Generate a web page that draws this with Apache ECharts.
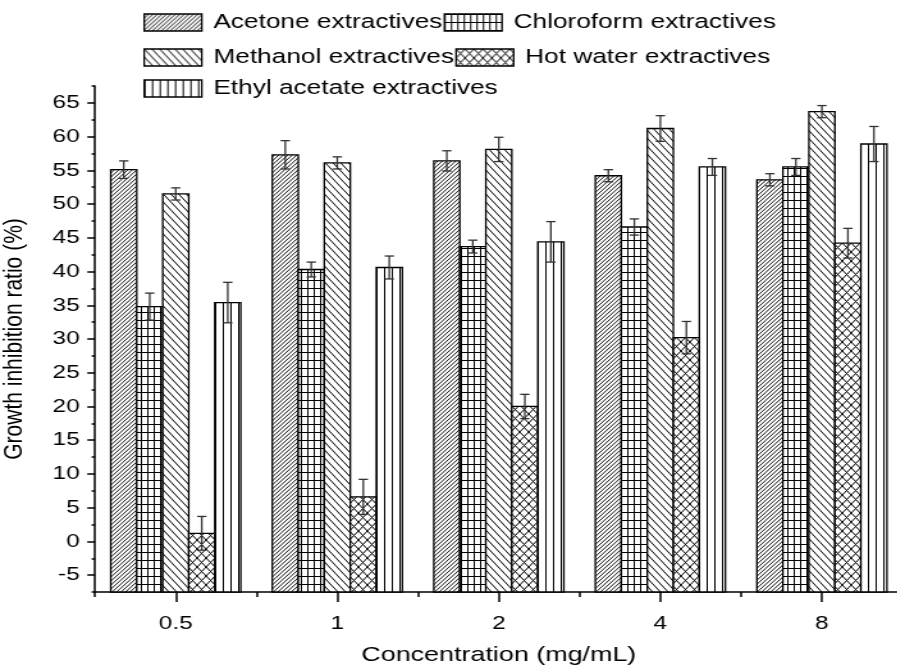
<!DOCTYPE html>
<html>
<head>
<meta charset="utf-8">
<script src="https://cdn.jsdelivr.net/npm/echarts@6/dist/echarts.min.js"></script>
<style>
  html, body { margin: 0; padding: 0; background: #fff; overflow: hidden; }
  #wrap { width: 897px; height: 672px; overflow: hidden; }
  #chart { width: 701px; height: 672px; transform: scaleX(1.28); transform-origin: 0 0; }
</style>
</head>
<body>
<div id="wrap"><div id="chart"></div></div>
<script>
// ---------------- data ----------------
const CATEGORIES = ['0.5', '1', '2', '4', '8'];
const SERIES_NAMES = ['Acetone extractives', 'Chloroform extractives', 'Methanol extractives', 'Hot water extractives', 'Ethyl acetate extractives'];

const ACETONE = [55.1, 57.3, 56.4, 54.2, 53.6];
const ACETONE_ERR = [1.3, 2.1, 1.5, 0.9, 0.9];
const CHLOROFORM = [34.8, 40.3, 43.7, 46.6, 55.5];
const CHLOROFORM_ERR = [2.0, 1.1, 0.95, 1.2, 1.25];
const METHANOL = [51.5, 56.1, 58.1, 61.2, 63.7];
const METHANOL_ERR = [0.9, 0.9, 1.8, 1.9, 0.9];
const HOT_WATER = [1.2, 6.6, 20.0, 30.2, 44.2];
const HOT_WATER_ERR = [2.5, 2.6, 1.8, 2.4, 2.2];
const ETHYL_ACETATE = [35.4, 40.6, 44.4, 55.5, 58.9];
const ETHYL_ACETATE_ERR = [3.0, 1.7, 3.0, 1.25, 2.6];

const Y_MIN = -7.5;
const Y_MAX = 67.5;
const Y_MAJOR_TICKS = [-5, 0, 5, 10, 15, 20, 25, 30, 35, 40, 45, 50, 55, 60, 65];
const Y_MINOR_TICKS = [-7.5, -2.5, 2.5, 7.5, 12.5, 17.5, 22.5, 27.5, 32.5, 37.5, 42.5, 47.5, 52.5, 57.5, 62.5, 67.5];

// ---------------- hatch patterns ----------------
function makeTile(w, h, draw) {
  const c = document.createElement('canvas');
  c.width = w; c.height = h;
  const ctx = c.getContext('2d');
  ctx.fillStyle = '#fff';
  ctx.fillRect(0, 0, w, h);
  ctx.strokeStyle = '#000';
  ctx.lineWidth = 1;
  draw(ctx, w, h);
  return { image: c, repeat: 'repeat' };
}
function seg(ctx, x1, y1, x2, y2) { ctx.beginPath(); ctx.moveTo(x1, y1); ctx.lineTo(x2, y2); ctx.stroke(); }

const PAT_ACETONE = makeTile(7, 8, (ctx, w, h) => {
  ctx.lineWidth = 0.9;
  for (let k = -2; k <= 3; k++) { const o = k * w / 2; seg(ctx, o, h, o + w, 0); }
});
const PAT_CHLOROFORM = makeTile(5, 8, (ctx, w, h) => {
  seg(ctx, 0.5, 0, 0.5, h);
  seg(ctx, 0, 0.5, w, 0.5);
});
const PAT_METHANOL = makeTile(6, 8, (ctx, w, h) => {
  for (let k = -1; k <= 1; k++) { const o = k * w; seg(ctx, o, 0, o + w, h); }
});
const PAT_HOT_WATER = makeTile(7, 9, (ctx, w, h) => {
  for (let k = -1; k <= 1; k++) { const o = k * w; seg(ctx, o, 0, o + w, h); seg(ctx, o, h, o + w, 0); }
});
const PAT_ETHYL = makeTile(6, 4, (ctx, w, h) => {
  seg(ctx, 0.5, 0, 0.5, h);
});
const PATTERNS = [PAT_ACETONE, PAT_CHLOROFORM, PAT_METHANOL, PAT_HOT_WATER, PAT_ETHYL];
const VALUES = [ACETONE, CHLOROFORM, METHANOL, HOT_WATER, ETHYL_ACETATE];
const ERRORS = [ACETONE_ERR, CHLOROFORM_ERR, METHANOL_ERR, HOT_WATER_ERR, ETHYL_ACETATE_ERR];

const FONT = "'Liberation Sans', Arial, sans-serif";
const N = SERIES_NAMES.length;
const GROUP_FRACTION = 0.805;

function renderer(si) {
  return function (params, api) {
    const idx = api.value(0), v = api.value(1), e = api.value(2);
    const band = api.size([1, 0])[0];
    const bw = band * GROUP_FRACTION / N;
    const top = api.coord([idx, v]);
    const base = api.coord([idx, Y_MIN]);
    const cx = top[0] + (si - (N - 1) / 2) * bw;
    const hi = api.coord([idx, v + e])[1];
    const lo = api.coord([idx, v - e])[1];
    const cap = bw * 0.18;
    const es = { stroke: '#333', lineWidth: 1.3 };
    return {
      type: 'group',
      children: [
        { type: 'rect', shape: { x: cx - bw / 2, y: top[1], width: bw, height: base[1] - top[1] },
          style: { fill: PATTERNS[si], stroke: '#000', lineWidth: 1.3 } },
        { type: 'line', shape: { x1: cx, y1: hi, x2: cx, y2: lo }, style: es },
        { type: 'line', shape: { x1: cx - cap, y1: hi, x2: cx + cap, y2: hi }, style: es },
        { type: 'line', shape: { x1: cx - cap, y1: lo, x2: cx + cap, y2: lo }, style: es }
      ]
    };
  };
}

const series = SERIES_NAMES.map((name, si) => ({
  name: name,
  type: 'custom',
  xAxisIndex: 0,
  yAxisIndex: 0,
  itemStyle: { color: PATTERNS[si], borderColor: '#000', borderWidth: 1.3 },
  renderItem: renderer(si),
  encode: { x: 0, y: 1 },
  data: CATEGORIES.map((c, i) => [i, VALUES[si][i], ERRORS[si][i]])
}));

const legendCommon = {
  orient: 'horizontal',
  left: 112,
  padding: 0,
  itemGap: 1,
  itemWidth: 45,
  itemHeight: 17,
  icon: 'rect',
  selectedMode: false,
  itemStyle: { borderColor: '#000', borderWidth: 1.3 },
  textStyle: { fontSize: 20.5, color: '#000', fontFamily: FONT, padding: [0, 0, 0, 4] }
};

const option = {
  animation: false,
  backgroundColor: '#fff',
  legend: [
    Object.assign({}, legendCommon, { top: 12, data: [SERIES_NAMES[0], SERIES_NAMES[1]] }),
    Object.assign({}, legendCommon, { top: 47, data: [SERIES_NAMES[2], SERIES_NAMES[3]] }),
    Object.assign({}, legendCommon, { top: 78, data: [SERIES_NAMES[4]] })
  ],
  grid: { left: 74.2, top: 86, width: 631, bottom: 80, containLabel: false, outerBoundsMode: 'none' },
  xAxis: [
    {
      type: 'category',
      data: CATEGORIES,
      position: 'bottom',
      boundaryGap: true,
      name: 'Concentration (mg/mL)',
      nameLocation: 'middle',
      nameGap: 53,
      nameTextStyle: { fontSize: 21, color: '#000', fontFamily: FONT },
      axisLine: { show: true, onZero: false, lineStyle: { color: '#000', width: 1.5 } },
      axisTick: { show: true, alignWithLabel: true, length: 10, lineStyle: { color: '#000', width: 1.5 } },
      axisLabel: { show: true, margin: 22, fontSize: 19, color: '#000', fontFamily: FONT },
      splitLine: { show: false }
    },
    {
      type: 'category',
      data: CATEGORIES,
      position: 'bottom',
      boundaryGap: true,
      axisLine: { show: false, onZero: false },
      axisTick: { show: true, alignWithLabel: false, interval: 0, length: 5, lineStyle: { color: '#000', width: 1.5 } },
      axisLabel: { show: false },
      splitLine: { show: false }
    }
  ],
  yAxis: [
    {
      type: 'value',
      min: Y_MIN,
      max: Y_MAX,
      position: 'left',
      name: 'Growth inhibition ratio (%)',
      nameLocation: 'middle',
      nameGap: 52,
      nameTextStyle: { fontSize: 21, color: '#000', fontFamily: FONT },
      axisLine: { show: true, onZero: false, lineStyle: { color: '#000', width: 1.5 } },
      axisTick: { show: true, length: 6, customValues: Y_MAJOR_TICKS, lineStyle: { color: '#000', width: 1.5 } },
      axisLabel: { show: true, margin: 12, fontSize: 19, color: '#000', fontFamily: FONT, customValues: Y_MAJOR_TICKS },
      splitLine: { show: false }
    },
    {
      type: 'value',
      min: Y_MIN,
      max: Y_MAX,
      position: 'left',
      axisLine: { show: false, onZero: false },
      axisTick: { show: true, length: 2.6, customValues: Y_MINOR_TICKS, lineStyle: { color: '#000', width: 1.5 } },
      axisLabel: { show: false },
      splitLine: { show: false }
    }
  ],
  series: series
};

const chart = echarts.init(document.getElementById('chart'));
chart.setOption(option);
</script>
</body>
</html>
